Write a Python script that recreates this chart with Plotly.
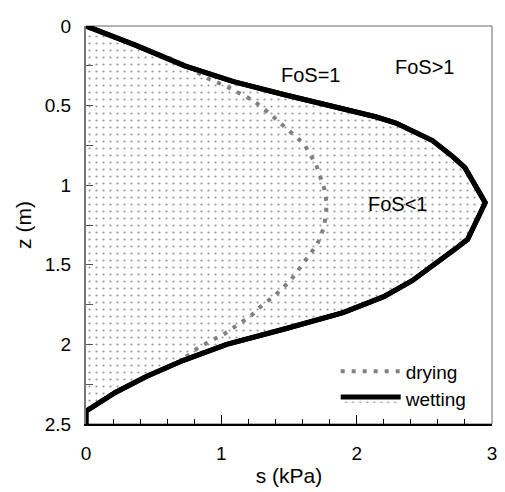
import plotly.graph_objects as go

# Wetting curve: suction s (kPa) vs depth z (m)
wet_s = [0, 0.365, 0.73, 1.09, 1.46, 1.82, 2.14, 2.29, 2.56, 2.71, 2.80, 2.95, 2.90, 2.82, 2.73, 2.57,
         2.41, 2.20, 1.90, 1.48, 1.04, 0.72, 0.45, 0.22, 0.03, 0, 0]
wet_z = [0, 0.12, 0.25, 0.35, 0.43, 0.50, 0.57, 0.61, 0.72, 0.82, 0.89, 1.11, 1.20, 1.34, 1.40, 1.50,
         1.60, 1.70, 1.80, 1.90, 2.00, 2.10, 2.20, 2.30, 2.40, 2.42, 2.50]

# Drying curve
dry_s = [0, 0.365, 0.64, 0.76, 0.90, 1.04, 1.24, 1.37, 1.49, 1.61, 1.70, 1.76, 1.78, 1.76, 1.71, 1.61,
         1.51, 1.40, 1.28, 1.22, 1.03, 0.83, 0.69, 0.45, 0.22, 0.03]
dry_z = [0, 0.12, 0.21, 0.26, 0.33, 0.38, 0.47, 0.56, 0.65, 0.74, 0.87, 1.02, 1.12, 1.26, 1.37, 1.49,
         1.60, 1.69, 1.77, 1.82, 1.93, 2.02, 2.11, 2.20, 2.30, 2.40]

labels = ["FoS=1", "FoS>1", "FoS<1"]
label_s = [1.66, 2.50, 2.30]
label_z = [0.31, 0.26, 1.12]

x_ticks = [0, 1, 2, 3]
y_ticks = [0, 0.5, 1, 1.5, 2, 2.5]
y_ticktext = ["0", "0.5", "1", "1.5", "2", "2.5"]

FONT = "Liberation Sans, Arial, sans-serif"

fig = go.Figure()

fig.add_trace(go.Scatter(
    x=wet_s, y=wet_z, mode="lines", name="wetting",
    line=dict(color="black", width=5),
    fill="tozerox", fillcolor="rgba(0,0,0,0)",
    fillpattern=dict(shape=".", size=7, solidity=0.08, fgcolor="#333", bgcolor="white"),
    legendrank=2, cliponaxis=False,
))
fig.add_trace(go.Scatter(
    x=dry_s, y=dry_z, mode="lines", name="drying",
    line=dict(color="#808080", width=4, dash="4px,7px"),
    legendrank=1,
))
fig.add_trace(go.Scatter(
    x=wet_s, y=wet_z, mode="lines", showlegend=False,
    line=dict(color="black", width=5), cliponaxis=False, hoverinfo="skip",
))

for t, sx, zy in zip(labels, label_s, label_z):
    fig.add_annotation(x=sx, y=zy, text=t, showarrow=False,
                       font=dict(family=FONT, size=20, color="black"))

fig.add_shape(type="rect", xref="paper", yref="paper", x0=0, y0=0, x1=1, y1=1,
              line=dict(color="#666", width=1), layer="below")

fig.update_layout(
    width=497, height=484,
    margin=dict(l=78, r=8, t=11, b=62),
    paper_bgcolor="white", plot_bgcolor="white",
    font=dict(family=FONT, size=19, color="black"),
    showlegend=True,
    legend=dict(x=0.615, y=0.18, xanchor="left", yanchor="top",
                bgcolor="rgba(0,0,0,0)", font=dict(size=19), itemwidth=60,
                tracegroupgap=0),
    xaxis=dict(range=[0, 3], tickvals=x_ticks, ticks="inside", ticklen=9,
               tickcolor="black", tickwidth=1,
               minor=dict(dtick=0.2, ticks="inside", ticklen=5, tickcolor="black"),
               showline=True, linecolor="black", linewidth=1.5, showgrid=False,
               zeroline=False, title=dict(text="s (kPa)", standoff=6, font=dict(size=21)),
               ticklabelstandoff=11),
    yaxis=dict(range=[2.5, 0], tickvals=y_ticks, ticktext=y_ticktext,
               ticks="inside", ticklen=7, tickcolor="#555", tickwidth=1,
               minor=dict(dtick=0.25, ticks="inside", ticklen=7, tickcolor="#555"),
               showline=True, linecolor="#777", linewidth=2, showgrid=False,
               zeroline=False, title=dict(text="z (m)", standoff=7, font=dict(size=21)),
               ticklabelstandoff=9),
)

fig.write_html("out.html")
